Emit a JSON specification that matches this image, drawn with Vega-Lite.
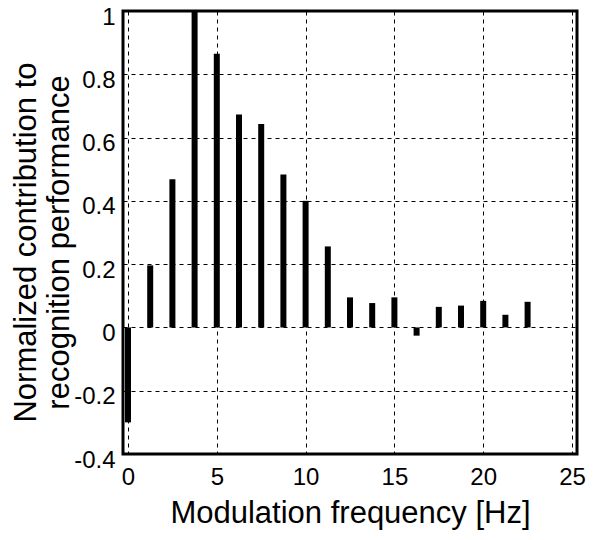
{
  "$schema": "https://vega.github.io/schema/vega-lite/v6.json",
  "width": 454,
  "height": 443,
  "autosize": {"type": "none"},
  "padding": {"left": 123, "top": 11, "right": 25, "bottom": 86},
  "background": "white",
  "config": {
    "font": "Liberation Sans",
    "view": {"stroke": "black", "strokeWidth": 3},
    "axis": {
      "domain": false,
      "ticks": false,
      "grid": true,
      "gridColor": "black",
      "gridDash": [4, 4],
      "gridWidth": 1,
      "gridOpacity": 1,
      "labelFont": "Liberation Sans",
      "labelFontSize": 24,
      "labelColor": "black",
      "titleFont": "Liberation Sans",
      "titleFontSize": 31,
      "titleFontWeight": "normal",
      "titleColor": "black"
    }
  },
  "data": {
    "values": [
      {"f": 0, "v": -0.30},
      {"f": 1.25, "v": 0.196},
      {"f": 2.5, "v": 0.468},
      {"f": 3.75, "v": 1.0},
      {"f": 5.0, "v": 0.865},
      {"f": 6.25, "v": 0.673},
      {"f": 7.5, "v": 0.643},
      {"f": 8.75, "v": 0.483},
      {"f": 10.0, "v": 0.40},
      {"f": 11.25, "v": 0.256},
      {"f": 12.5, "v": 0.095},
      {"f": 13.75, "v": 0.077},
      {"f": 15.0, "v": 0.095},
      {"f": 16.25, "v": -0.026},
      {"f": 17.5, "v": 0.065},
      {"f": 18.75, "v": 0.069},
      {"f": 20.0, "v": 0.084},
      {"f": 21.25, "v": 0.04},
      {"f": 22.5, "v": 0.081}
    ]
  },
  "mark": {"type": "bar", "color": "black", "size": 6, "clip": false},
  "encoding": {
    "x": {
      "field": "f",
      "type": "quantitative",
      "scale": {"domain": [0, 25], "nice": false, "zero": false},
      "axis": {
        "values": [0, 5, 10, 15, 20, 25],
        "title": "Modulation frequency [Hz]",
        "labelPadding": 11,
        "titlePadding": 9,
        "labelFlush": false
      }
    },
    "y": {
      "field": "v",
      "type": "quantitative",
      "scale": {"domain": [-0.4, 1], "nice": false},
      "axis": {
        "values": [-0.4, -0.2, 0, 0.2, 0.4, 0.6, 0.8, 1],
        "labelExpr": "datum.value < 0 ? '-' + format(-datum.value, '') : format(datum.value, '')",
        "labelPadding": 8,
        "labelOffset": 6,
        "labelFlush": false,
        "title": ["Normalized contribution to", "recognition performance"],
        "titleAngle": -90,
        "titleAlign": "center",
        "titleBaseline": "top",
        "titleX": -112,
        "titleY": 231,
        "titleLineHeight": 33
      }
    }
  }
}
